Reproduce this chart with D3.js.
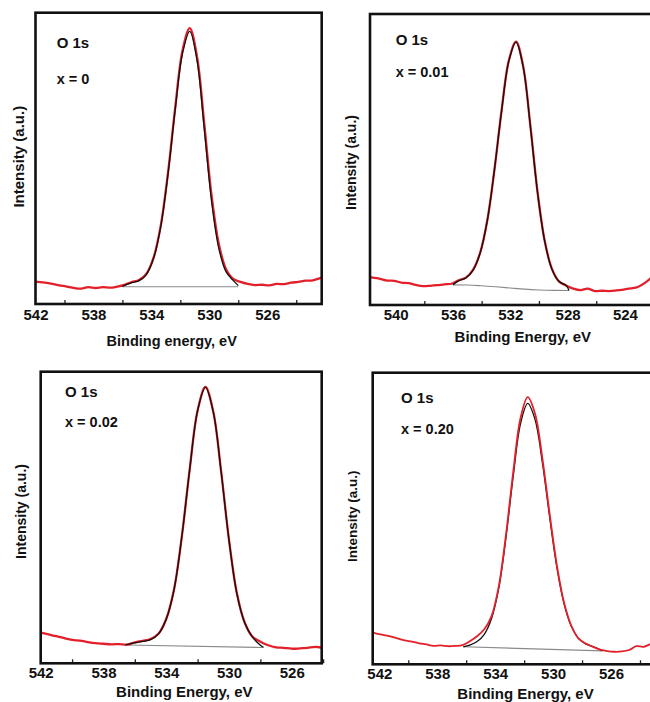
<!DOCTYPE html>
<html><head><meta charset="utf-8">
<script src="https://cdn.jsdelivr.net/npm/d3@7"></script>
<style>
body{margin:0;background:#fff;}
text{font-family:"Liberation Sans", Arial, sans-serif;font-weight:bold;fill:#111;}
</style></head><body>
<svg id="chart" width="650" height="702"></svg>
<script>
// ---------------- DATA ----------------
const tickLabelsA = [542, 538, 534, 530, 526];
const tickLabelsB = [540, 536, 532, 528, 524];
const minorTicksA = [540, 536, 532, 528, 524];
const minorTicksB = [538, 534, 530, 526];
const expStep = 0.5;

// x = 0
const expStart1 = 542.35;
const exp1 = [7.9,7.6,7.3,6.9,6.4,6.0,5.5,5.3,5.8,5.5,5.8,5.6,6.0,6.6,7.5,8.2,10.3,15.9,27.0,45.1,67.6,87.0,94.7,85.0,62.0,37.5,20.8,12.0,8.6,7.6,6.9,6.5,6.6,6.4,6.9,6.8,7.3,7.6,8.0,8.1,8.9,9.4];
const fitE1 = [536.0,535.85,535.35,534.85,534.35,533.85,533.35,532.85,532.35,531.85,531.35,530.85,530.35,529.85,529.35,528.85,528.35,528.0];
const fitI1 = [6.0,6.4,7.3,8.0,10.1,15.6,26.6,44.6,66.9,86.0,93.6,83.6,60.1,35.5,19.2,11.1,8.1,6.3];
const bgE1 = [536, 528];
const bgI1 = [5.9, 5.9];

// x = 0.01
const expStart2 = 542.1;
const exp2 = [10.0,9.4,9.0,8.4,8.3,7.7,7.5,6.9,6.5,6.6,6.8,7.1,7.3,8.5,9.4,12.1,18.0,29.2,46.7,67.1,84.0,90.5,82.0,61.7,38.9,22.1,12.5,8.1,6.7,5.6,5.1,5.6,4.8,4.9,4.8,5.0,5.3,5.7,6.2,7.6,9.6,11.5];
const fitE2 = [536.0,535.6,535.1,534.6,534.1,533.6,533.1,532.6,532.1,531.6,531.1,530.6,530.1,529.6,529.1,528.6,528.1,527.9];
const fitI2 = [7.0,8.3,9.3,11.9,17.9,29.1,46.7,66.9,83.8,90.3,81.8,61.5,38.8,22.0,12.4,8.1,6.7,5.0];
const bgE2 = [536,535,534,533,532,531,530,529,527.9];
const bgI2 = [6.9,6.85,6.6,6.25,5.85,5.45,5.18,5.03,5.0];

// x = 0.02
const expStart3 = 542.0;
const exp3 = [10.5,9.9,9.3,8.6,8.0,7.8,7.3,6.9,6.7,6.5,6.6,6.4,7.2,7.7,8.3,10.1,15.2,25.4,43.7,66.7,86.7,94.75,86.3,65.8,42.4,24.1,14.0,9.1,7.4,6.2,5.5,5.3,5.0,5.1,5.3,5.6,5.4,5.6];
const fitE3 = [536.6,536.0,535.5,535.0,534.5,534.0,533.5,533.0,532.5,532.0,531.5,531.0,530.5,530.0,529.5,529.0,528.5,528.0,527.8];
const fitI3 = [6.3,7.0,7.5,8.1,10.0,15.1,25.3,43.6,66.6,86.6,94.6,86.2,65.7,42.3,24.0,13.9,9.0,6.2,5.5];
const bgE3 = [536.6, 527.8];
const bgI3 = [6.3, 5.4];

// x = 0.20
const expStart4 = 542.75;
const exp4 = [11.3,10.6,10.1,9.6,8.9,8.2,7.8,7.2,6.8,6.3,6.5,6.2,6.3,6.6,7.9,9.6,12.0,16.5,26.8,44.6,66.1,84.4,91.6,86.0,71.0,52.0,34.3,21.3,13.3,8.9,7.1,6.0,5.0,4.5,4.3,4.4,4.9,6.2,6.0,7.0,7.8,8.4];
const fitE4 = [536.2,535.75,535.25,534.75,534.25,533.75,533.25,532.75,532.25,531.75,531.25,530.75,530.25,529.75,529.25,528.75,528.25,527.75,527.25,526.75,526.6];
const fitI4 = [6.0,6.6,7.8,10.3,15.7,26.1,43.6,64.6,82.5,89.5,84.0,69.5,50.9,33.5,20.9,13.1,8.9,7.0,6.1,5.0,4.6];
const bgE4 = [536.2, 526.6];
const bgI4 = [6.0, 4.6];

const sampleLabels = ["x = 0", "x = 0.01", "x = 0.02", "x = 0.20"];
const xTitles = ["Binding energy, eV", "Binding Energy, eV", "Binding Energy, eV", "Binding Energy, eV"];

// ---------------- LAYOUT ----------------
const panels = [
  {left:35.5, top:12.7, right:321.7, bottom:304, domain:[542,522.24], expStart:expStart1, exp:exp1, fitE:fitE1, fitI:fitI1, bgE:bgE1, bgI:bgI1,
   labels:tickLabelsA, minor:minorTicksA, tickBase:320, titleX:171.7, titleBase:346, titleSize:14.5,
   yLabX:18.3, yLabY:156.7, yLabSize:15, textX:56.7, oBase:47.7, sBase:84, redOnTop:false},
  {left:370, top:14, right:657, bottom:305, domain:[541.79,521.76], expStart:expStart2, exp:exp2, fitE:fitE2, fitI:fitI2, bgE:bgE2, bgI:bgI2,
   labels:tickLabelsB, minor:minorTicksB, tickBase:320, titleX:522.8, titleBase:342, titleSize:15,
   yLabX:350.8, yLabY:162.5, yLabSize:14, textX:395.7, oBase:45, sBase:76.7, redOnTop:false},
  {left:40.7, top:371.7, right:321.7, bottom:663.3, domain:[542,524.09], expStart:expStart3, exp:exp3, fitE:fitE3, fitI:fitI3, bgE:bgE3, bgI:bgI3,
   labels:tickLabelsA, minor:minorTicksA, tickBase:677.7, titleX:184.3, titleBase:697, titleSize:15,
   yLabX:20.5, yLabY:511.5, yLabSize:14, textX:65, oBase:396.7, sBase:427.3, redOnTop:false},
  {left:372.7, top:372.7, right:659.7, bottom:664.3, domain:[542.456,522.64], expStart:expStart4, exp:exp4, fitE:fitE4, fitI:fitI4, bgE:bgE4, bgI:bgI4,
   labels:tickLabelsA, minor:minorTicksA, tickBase:679, titleX:525.5, titleBase:699, titleSize:15,
   yLabX:352.5, yLabY:516.2, yLabSize:13.5, textX:401, oBase:403.3, sBase:434, redOnTop:true}
];

const svg = d3.select("#chart");
svg.append("rect").attr("width",650).attr("height",702).attr("fill","#fff");

panels.forEach((p, i) => {
  const x = d3.scaleLinear().domain(p.domain).range([p.left, p.right]);
  const y = d3.scaleLinear().domain([0, 100]).range([p.bottom, p.top]);
  const g = svg.append("g");

  const clipId = "clip" + i;
  svg.append("clipPath").attr("id", clipId).append("rect")
    .attr("x", p.left).attr("y", p.top).attr("width", p.right - p.left).attr("height", p.bottom - p.top);

  const line = d3.line().x(d => x(d[0])).y(d => y(d[1])).curve(d3.curveCatmullRom.alpha(0.5));
  const expData = p.exp.map((v, k) => [p.expStart - k * expStep, v]);
  const fitData = p.fitE.map((e, k) => [e, p.fitI[k]]);
  const bgData = p.bgE.map((e, k) => [e, p.bgI[k]]);

  const plot = g.append("g").attr("clip-path", `url(#${clipId})`);
  plot.append("path").datum(bgData).attr("d", d3.line().x(d => x(d[0])).y(d => y(d[1])).curve(d3.curveMonotoneX))
    .attr("fill","none").attr("stroke","#8a8a8a").attr("stroke-width",1.1);
  const drawRed = (w) => plot.append("path").datum(expData).attr("d", line)
    .attr("fill","none").attr("stroke","#e3202a").attr("stroke-width",w).attr("stroke-linejoin","round");
  const drawBlack = () => plot.append("path").datum(fitData).attr("d", line)
    .attr("fill","none").attr("stroke","#111").attr("stroke-width",1.3);
  if (p.redOnTop) { drawBlack(); drawRed(1.8); } else { drawRed(2.3); drawBlack(); }

  // minor ticks (inward)
  const minorAxis = g.append("g").attr("transform", `translate(0,${p.bottom})`)
    .call(d3.axisBottom(x).tickValues(p.minor).tickSize(-4).tickFormat(""));
  minorAxis.select(".domain").remove();
  minorAxis.selectAll("line").attr("stroke","#222").attr("stroke-width",1.3);

  // tick labels
  const labAxis = g.append("g").attr("transform", `translate(0,${p.bottom})`)
    .call(d3.axisBottom(x).tickValues(p.labels).tickSize(0).tickFormat(d3.format("d")));
  labAxis.select(".domain").remove();
  labAxis.selectAll("text").attr("y", p.tickBase - p.bottom).attr("dy", null)
    .style("font-size","15px").style("fill","#111");

  // frame
  g.append("rect").attr("x", p.left).attr("y", p.top).attr("width", p.right - p.left).attr("height", p.bottom - p.top)
    .attr("fill","none").attr("stroke","#111").attr("stroke-width",2.6);

  // titles
  g.append("text").attr("x", p.titleX).attr("y", p.titleBase).attr("text-anchor","middle")
    .style("font-size", p.titleSize + "px").text(xTitles[i]);
  g.append("text").attr("transform", `translate(${p.yLabX},${p.yLabY}) rotate(-90)`)
    .attr("text-anchor","middle").attr("dominant-baseline","central")
    .style("font-size", p.yLabSize + "px").text("Intensity (a.u.)");
  g.append("text").attr("x", p.textX).attr("y", p.oBase).style("font-size","15px").text("O 1s");
  g.append("text").attr("x", p.textX).attr("y", p.sBase).style("font-size","14.5px").text(sampleLabels[i]);
});
</script>
</body></html>
